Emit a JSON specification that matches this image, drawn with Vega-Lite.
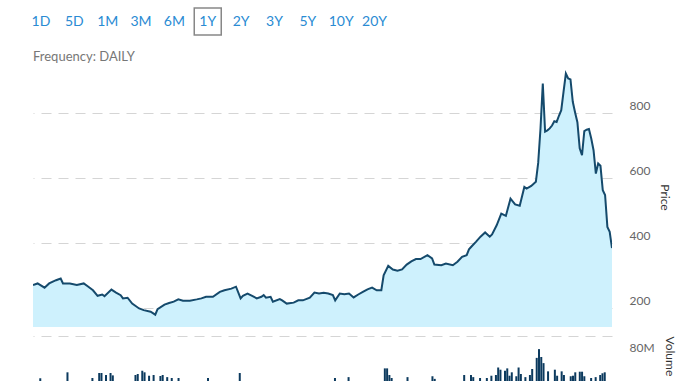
{
  "$schema": "https://vega.github.io/schema/vega-lite/v6.json",
  "padding": {"left": 31, "top": 0, "right": 0, "bottom": 0},
  "background": "white",
  "spacing": 8,
  "config": {
    "view": {"stroke": null},
    "font": "Lato",
    "axis": {"labelFont": "Lato", "titleFont": "Lato"}
  },
  "vconcat": [
    {
      "width": 349.5,
      "height": 43,
      "data": {"values": [
        {"label": "1D", "selected": false},
        {"label": "5D", "selected": false},
        {"label": "1M", "selected": false},
        {"label": "3M", "selected": false},
        {"label": "6M", "selected": false},
        {"label": "1Y", "selected": true},
        {"label": "2Y", "selected": false},
        {"label": "3Y", "selected": false},
        {"label": "5Y", "selected": false},
        {"label": "10Y", "selected": false},
        {"label": "20Y", "selected": false}
      ]},
      "layer": [
        {
          "mark": {"type": "point", "shape": "square", "filled": false, "stroke": "#555555", "strokeWidth": 1.5},
          "encoding": {
            "x": {"field": "label", "type": "ordinal", "sort": null, "scale": {"type": "point", "padding": 0.24}, "axis": null},
            "size": {"condition": {"test": "datum.selected", "value": 729}, "value": 0}
          }
        },
        {
          "mark": {"type": "text", "fontSize": 14, "color": "#2a8bd3", "font": "Lato"},
          "encoding": {
            "x": {"field": "label", "type": "ordinal", "sort": null, "scale": {"type": "point", "padding": 0.24}, "axis": null},
            "text": {"field": "label"}
          }
        }
      ]
    },
    {
      "width": 579,
      "height": 260,
      "title": {"text": "Frequency: DAILY", "anchor": "start", "fontSize": 13, "color": "#777777", "fontWeight": "normal", "font": "Lato", "offset": 3},
      "data": {"values": [
        {"day": 0, "price": 269}, {"day": 2, "price": 274}, {"day": 5, "price": 261}, {"day": 7, "price": 274},
        {"day": 10, "price": 284}, {"day": 12, "price": 289}, {"day": 13, "price": 274}, {"day": 16, "price": 274},
        {"day": 19, "price": 269}, {"day": 22, "price": 274}, {"day": 24, "price": 264}, {"day": 26, "price": 253},
        {"day": 28, "price": 236}, {"day": 30, "price": 240}, {"day": 31, "price": 235}, {"day": 34, "price": 255},
        {"day": 36, "price": 246}, {"day": 38, "price": 238}, {"day": 39, "price": 228}, {"day": 41, "price": 230},
        {"day": 43, "price": 212}, {"day": 46, "price": 197}, {"day": 48, "price": 192}, {"day": 51, "price": 187},
        {"day": 53, "price": 178}, {"day": 54, "price": 195}, {"day": 57, "price": 209}, {"day": 59, "price": 214},
        {"day": 61, "price": 218}, {"day": 63, "price": 225}, {"day": 65, "price": 221}, {"day": 68, "price": 221},
        {"day": 71, "price": 225}, {"day": 73, "price": 228}, {"day": 75, "price": 233}, {"day": 78, "price": 233},
        {"day": 81, "price": 248}, {"day": 83, "price": 253}, {"day": 86, "price": 258}, {"day": 88, "price": 264},
        {"day": 90, "price": 228}, {"day": 91, "price": 236}, {"day": 93, "price": 243}, {"day": 95, "price": 236},
        {"day": 97, "price": 228}, {"day": 99, "price": 233}, {"day": 100, "price": 238}, {"day": 101, "price": 230},
        {"day": 103, "price": 233}, {"day": 104, "price": 218}, {"day": 107, "price": 226}, {"day": 108, "price": 222},
        {"day": 110, "price": 212}, {"day": 113, "price": 215}, {"day": 115, "price": 222}, {"day": 117, "price": 222},
        {"day": 120, "price": 230}, {"day": 122, "price": 246}, {"day": 124, "price": 243}, {"day": 126, "price": 245},
        {"day": 128, "price": 243}, {"day": 130, "price": 238}, {"day": 131, "price": 222}, {"day": 133, "price": 243},
        {"day": 135, "price": 241}, {"day": 137, "price": 243}, {"day": 139, "price": 231}, {"day": 141, "price": 240},
        {"day": 143, "price": 248}, {"day": 145, "price": 256}, {"day": 147, "price": 261}, {"day": 149, "price": 253},
        {"day": 151, "price": 253}, {"day": 152, "price": 299}, {"day": 154, "price": 328}, {"day": 156, "price": 317},
        {"day": 158, "price": 313}, {"day": 160, "price": 317}, {"day": 162, "price": 332}, {"day": 164, "price": 342},
        {"day": 166, "price": 349}, {"day": 168, "price": 349}, {"day": 171, "price": 361}, {"day": 173, "price": 351},
        {"day": 174, "price": 332}, {"day": 177, "price": 330}, {"day": 179, "price": 335}, {"day": 182, "price": 330},
        {"day": 184, "price": 341}, {"day": 186, "price": 356}, {"day": 188, "price": 361}, {"day": 189, "price": 379},
        {"day": 190, "price": 387}, {"day": 192, "price": 402}, {"day": 194, "price": 418}, {"day": 196, "price": 431},
        {"day": 198, "price": 418}, {"day": 199, "price": 425}, {"day": 201, "price": 453}, {"day": 203, "price": 489},
        {"day": 205, "price": 482}, {"day": 207, "price": 535}, {"day": 209, "price": 517}, {"day": 211, "price": 513},
        {"day": 213, "price": 571}, {"day": 214, "price": 566}, {"day": 216, "price": 574}, {"day": 218, "price": 587},
        {"day": 219, "price": 645}, {"day": 220, "price": 750}, {"day": 221, "price": 889}, {"day": 222, "price": 741},
        {"day": 223, "price": 745}, {"day": 224, "price": 751}, {"day": 225, "price": 760}, {"day": 226, "price": 773},
        {"day": 227, "price": 771}, {"day": 228, "price": 790}, {"day": 229, "price": 807}, {"day": 230, "price": 864},
        {"day": 231, "price": 920}, {"day": 232, "price": 905}, {"day": 233, "price": 902}, {"day": 234, "price": 833},
        {"day": 235, "price": 800}, {"day": 236, "price": 770}, {"day": 237, "price": 690}, {"day": 238, "price": 669},
        {"day": 239, "price": 743}, {"day": 240, "price": 747}, {"day": 241, "price": 749}, {"day": 242, "price": 720},
        {"day": 243, "price": 684}, {"day": 244, "price": 612}, {"day": 245, "price": 643}, {"day": 246, "price": 636},
        {"day": 247, "price": 561}, {"day": 248, "price": 546}, {"day": 249, "price": 448}, {"day": 250, "price": 433},
        {"day": 251, "price": 383}
      ]},
      "mark": {"type": "area", "color": "#cef1fd", "opacity": 1, "clip": true, "line": {"color": "#154a6c", "strokeWidth": 2}},
      "encoding": {
        "x": {"field": "day", "type": "quantitative", "scale": {"domain": [0, 251], "nice": false, "zero": false}, "axis": null},
        "y": {
          "field": "price", "type": "quantitative",
          "scale": {"domain": [140, 940], "nice": false, "zero": false},
          "axis": {
            "orient": "right", "values": [200, 400, 600, 800], "title": "Price",
            "domain": false, "ticks": false, "labelPadding": 17, "labelOffset": -7,
            "labelFontSize": 12, "labelColor": "#666666", "labelAlign": "left",
            "gridColor": "#d5d5d5", "gridDash": [10, 7],
            "titleFontSize": 12, "titleFontWeight": "normal", "titleColor": "#333333", "titlePadding": 8
          }
        },
        "y2": {"datum": 140}
      }
    },
    {
      "width": 579,
      "height": 70,
      "data": {"values": [
        {"day": 1, "volume": 31700000}, {"day": 13, "volume": 38500000}, {"day": 24, "volume": 32000000},
        {"day": 27, "volume": 37700000}, {"day": 28, "volume": 37700000}, {"day": 30, "volume": 35400000},
        {"day": 32, "volume": 37700000}, {"day": 33, "volume": 35000000}, {"day": 43, "volume": 35400000},
        {"day": 44, "volume": 36600000}, {"day": 46, "volume": 40300000}, {"day": 47, "volume": 38500000},
        {"day": 49, "volume": 34600000}, {"day": 51, "volume": 35400000}, {"day": 54, "volume": 34300000},
        {"day": 55, "volume": 35400000}, {"day": 57, "volume": 33000000}, {"day": 59, "volume": 32000000},
        {"day": 62, "volume": 32000000}, {"day": 75, "volume": 32000000}, {"day": 89, "volume": 37700000},
        {"day": 131, "volume": 32000000}, {"day": 137, "volume": 33000000}, {"day": 153, "volume": 43000000},
        {"day": 154, "volume": 43000000}, {"day": 155, "volume": 35400000}, {"day": 156, "volume": 32000000},
        {"day": 163, "volume": 33000000}, {"day": 174, "volume": 34000000}, {"day": 175, "volume": 31000000},
        {"day": 188, "volume": 35400000}, {"day": 191, "volume": 35400000}, {"day": 192, "volume": 33000000},
        {"day": 195, "volume": 32000000}, {"day": 198, "volume": 32000000}, {"day": 200, "volume": 34600000},
        {"day": 202, "volume": 35400000}, {"day": 203, "volume": 44000000}, {"day": 204, "volume": 41500000},
        {"day": 206, "volume": 40300000}, {"day": 207, "volume": 43000000}, {"day": 208, "volume": 34600000},
        {"day": 209, "volume": 38500000}, {"day": 211, "volume": 34000000}, {"day": 212, "volume": 44000000},
        {"day": 213, "volume": 36600000}, {"day": 215, "volume": 33000000}, {"day": 217, "volume": 35400000},
        {"day": 218, "volume": 42300000}, {"day": 220, "volume": 55000000}, {"day": 221, "volume": 65000000},
        {"day": 222, "volume": 56000000}, {"day": 223, "volume": 49000000}, {"day": 225, "volume": 39600000},
        {"day": 228, "volume": 41500000}, {"day": 229, "volume": 34600000}, {"day": 231, "volume": 39600000},
        {"day": 232, "volume": 35400000}, {"day": 235, "volume": 34000000}, {"day": 236, "volume": 34600000},
        {"day": 237, "volume": 38500000}, {"day": 239, "volume": 39200000}, {"day": 240, "volume": 39200000},
        {"day": 241, "volume": 34000000}, {"day": 244, "volume": 32000000}, {"day": 246, "volume": 33000000},
        {"day": 248, "volume": 35400000}, {"day": 249, "volume": 37400000}, {"day": 250, "volume": 38500000}
      ]},
      "mark": {"type": "bar", "size": 2, "color": "#0c3a5e"},
      "encoding": {
        "x": {"field": "day", "type": "quantitative", "scale": {"domain": [0, 251], "nice": false, "zero": false}, "axis": null},
        "y": {
          "field": "volume", "type": "quantitative",
          "scale": {"domain": [0, 80000000], "nice": false},
          "axis": {
            "orient": "right", "values": [80000000], "format": "~s", "title": "Volume",
            "domain": false, "ticks": false, "labelPadding": 17, "labelOffset": 11,
            "labelFontSize": 12, "labelColor": "#666666", "labelAlign": "left",
            "gridColor": "#d5d5d5", "gridDash": [10, 7],
            "titleFontSize": 12, "titleFontWeight": "normal", "titleColor": "#333333", "titlePadding": 8,
            "titleAnchor": "end", "titleAlign": "left"
          }
        }
      }
    }
  ]
}
